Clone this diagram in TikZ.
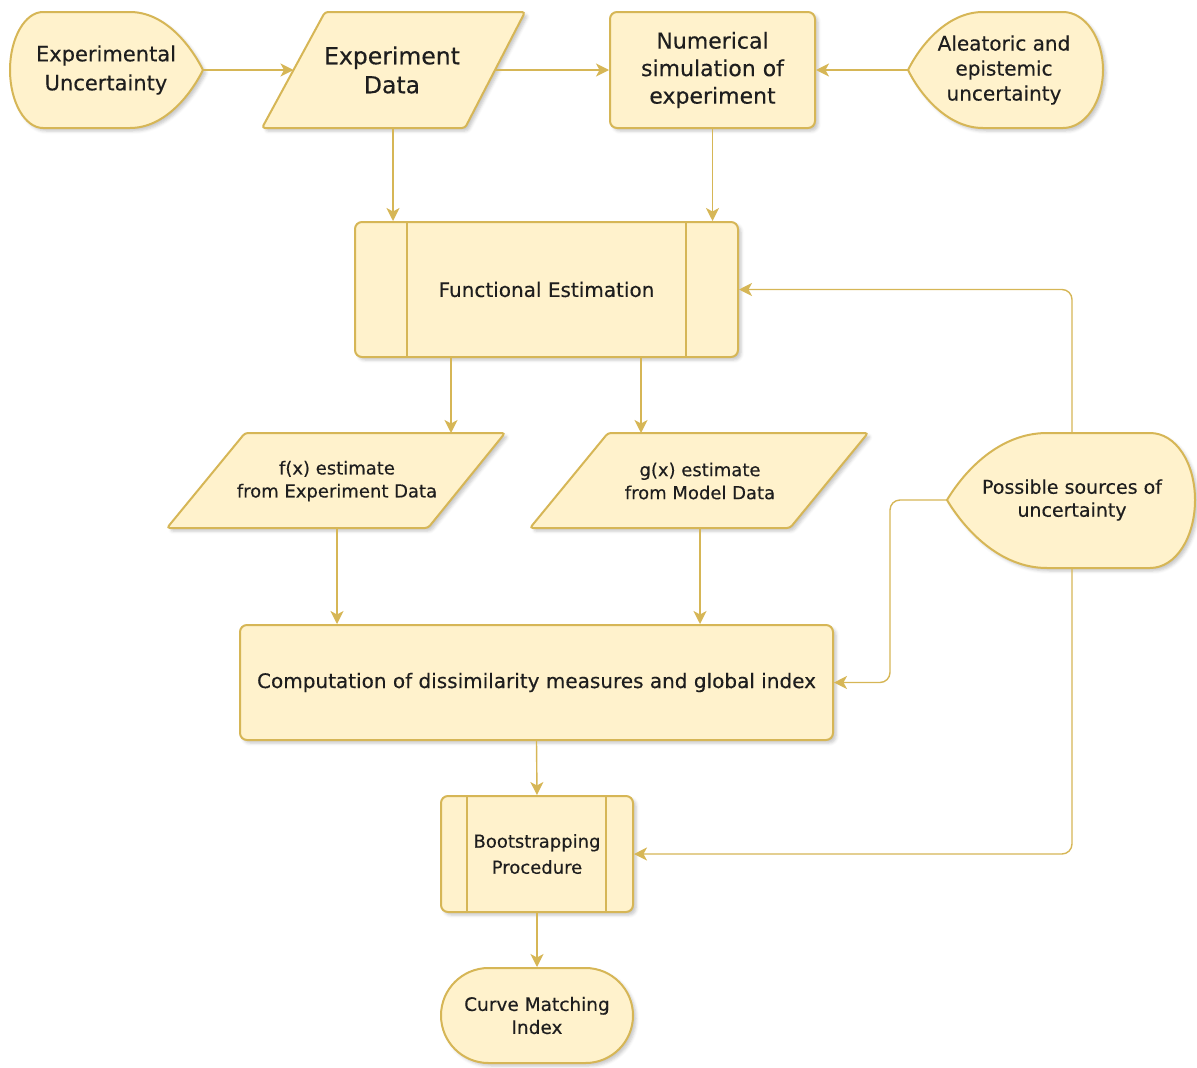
\documentclass[tikz,border=0pt]{standalone}
\usepackage{fontspec}
\setmainfont{DejaVu Sans}[FakeBold=0.35]
\usetikzlibrary{arrows.meta,shapes.misc,shadows.blur}
\definecolor{fillY}{HTML}{FFF2CC}
\definecolor{strokeY}{HTML}{D6B656}
\definecolor{txt}{HTML}{1E1E1E}
\tikzset{
  shp/.style={draw=strokeY, fill=fillY, line width=2pt,
    blur shadow={shadow xshift=3pt, shadow yshift=-3pt, shadow blur radius=3pt, shadow opacity=22}},
  boxnode/.style={shp, rounded corners=7pt, inner sep=0pt, align=center, text=txt},
  lbl/.style={align=center, inner sep=0pt, text=txt},
  conn/.style={draw=strokeY, line width=1.4pt, rounded corners=10pt,
    -{Stealth[length=13pt,width=13pt,inset=3.5pt]}},
  divline/.style={draw=strokeY, line width=2pt},
}
\begin{document}
\begin{tikzpicture}[x=1pt,y=-1pt]
\useasboundingbox (0,0) rectangle (1197,1068);

% Experimental Uncertainty (display shape, point on the right)
\path[shp] (203,70) .. controls (190,44) and (164,12) .. (130,12) -- (43,12)
  .. controls (25,12) and (10,38) .. (10,70) .. controls (10,102) and (25,128) .. (43,128)
  -- (130,128) .. controls (164,128) and (190,96) .. (203,70) -- cycle;
\node[lbl, font=\fontsize{21}{29}\selectfont] (eu) at (106,70) {Experimental\\Uncertainty};
\coordinate (eu-e) at (203,70);

% Experiment Data (parallelogram)
\path[shp, rounded corners=3pt] (325,12) -- (525,12) -- (465,128) -- (262,128) -- cycle;
\node[lbl, font=\fontsize{23.5}{29}\selectfont] (ed) at (392,70) {Experiment\\Data};
\coordinate (ed-w) at (293.5,70);
\coordinate (ed-e) at (495,70);
\coordinate (ed-s) at (393,128);

% Numerical simulation
\node[boxnode, minimum width=205pt, minimum height=116pt, font=\fontsize{22}{27.5}\selectfont]
  (ns) at (712.5,70) {Numerical\\simulation of\\experiment};

% Aleatoric and epistemic uncertainty (display shape, point on the left)
\path[shp] (908,70) .. controls (921,44) and (948,12) .. (983,12) -- (1063,12)
  .. controls (1085,12) and (1103,38) .. (1103,70) .. controls (1103,102) and (1085,128) .. (1063,128)
  -- (983,128) .. controls (948,128) and (921,96) .. (908,70) -- cycle;
\node[lbl, font=\fontsize{20}{25}\selectfont] (al) at (1004,70) {Aleatoric and\\epistemic\\uncertainty};
\coordinate (al-w) at (908,70);

% Functional Estimation (predefined process)
\node[boxnode, minimum width=383pt, minimum height=135pt, font=\fontsize{20}{25}\selectfont]
  (fe) at (546.5,289.5) {Functional Estimation};
\draw[divline] ([xshift=53pt]fe.north west) -- ([xshift=53pt]fe.south west);
\draw[divline] ([xshift=-53pt]fe.north east) -- ([xshift=-53pt]fe.south east);

% f(x) estimate
\path[shp, rounded corners=3pt] (245,433) -- (505,433) -- (428,528) -- (167,528) -- cycle;
\node[lbl, font=\fontsize{18}{23}\selectfont] (fx) at (337,481) {f(x) estimate\\from Experiment Data};
\coordinate (fx-n) at (451,433);
\coordinate (fx-s) at (337,528);

% g(x) estimate
\path[shp, rounded corners=3pt] (608,433) -- (868,433) -- (790,528) -- (530,528) -- cycle;
\node[lbl, font=\fontsize{18}{23}\selectfont] (gx) at (700,481) {g(x) estimate\\from Model Data};
\coordinate (gx-n) at (641,433);
\coordinate (gx-s) at (700,528);

% Possible sources of uncertainty
\path[shp] (947,500) .. controls (965,470) and (1000,433) .. (1047,433) -- (1150,433)
  .. controls (1176,433) and (1195,463) .. (1195,500) .. controls (1195,537) and (1176,568) .. (1150,568)
  -- (1047,568) .. controls (1000,568) and (965,530) .. (947,500) -- cycle;
\node[lbl, font=\fontsize{19}{23}\selectfont] (ps) at (1072,500) {Possible sources of\\uncertainty};
\coordinate (ps-n) at (1072,433);
\coordinate (ps-w) at (947,500);
\coordinate (ps-s) at (1072,568);

% Computation
\node[boxnode, minimum width=593pt, minimum height=115pt, font=\fontsize{20}{25}\selectfont]
  (cp) at (536.5,682.5) {Computation of dissimilarity measures and global index};

% Bootstrapping
\node[boxnode, minimum width=192pt, minimum height=116pt, font=\fontsize{18}{26}\selectfont]
  (bs) at (537,854) {Bootstrapping\\Procedure};
\draw[divline] ([xshift=27pt]bs.north west) -- ([xshift=27pt]bs.south west);
\draw[divline] ([xshift=-28pt]bs.north east) -- ([xshift=-28pt]bs.south east);

% Curve Matching Index
\node[shp, rounded rectangle, minimum width=192pt, minimum height=95pt, inner sep=0pt,
  align=center, text=txt, font=\fontsize{18.5}{23}\selectfont]
  (cm) at (537,1015.5) {Curve Matching\\Index};

% Connectors
\draw[conn] (eu-e) -- (ed-w);
\draw[conn] (ed-e) -- (ns.west);
\draw[conn] (al-w) -- (ns.east);
\draw[conn] (ed-s) -- (ed-s |- fe.north);
\draw[conn] (ns.south) -- (ns.south |- fe.north);
\draw[conn] (fx-n |- fe.south) -- (fx-n);
\draw[conn] (gx-n |- fe.south) -- (gx-n);
\draw[conn] (fx-s) -- (fx-s |- cp.north);
\draw[conn] (gx-s) -- (gx-s |- cp.north);
\draw[conn] (ps-n) |- (fe.east);
\draw[conn] (ps-w) -- ++(-57,0) |- (cp.east);
\draw[conn] (ps-s) |- (bs.east);
\draw[conn] (cp.south) -- (bs.north);
\draw[conn] (bs.south) -- (cm.north);
\end{tikzpicture}
\end{document}
